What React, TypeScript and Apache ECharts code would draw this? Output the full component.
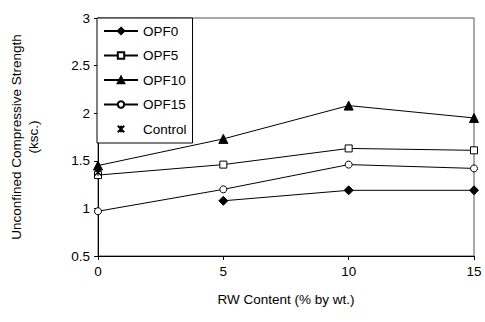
import React, { useEffect, useRef } from "react";
import * as echarts from "echarts";

const xValues = [0, 5, 10, 15];
const opf0: (number | null)[] = [null, 1.08, 1.19, 1.19];
const opf5 = [1.35, 1.46, 1.63, 1.61];
const opf10 = [1.45, 1.73, 2.08, 1.95];
const opf15 = [0.97, 1.2, 1.46, 1.42];
const controlX = [0];
const controlY = [1.38];
const yTicks = { min: 0.5, max: 3, interval: 0.5 };
const xTicks = { min: 0, max: 15, interval: 5 };

const FONT = "'Liberation Sans', Arial, sans-serif";
const FS = 13.5;
const asterisk = "path://M0,0L10,10M10,0L0,10M5,0L5,10";

export default function App() {
  const ref = useRef<HTMLDivElement>(null);
  useEffect(() => {
    if (!ref.current) return;
    const chart = echarts.init(ref.current, null, { renderer: "svg" });
    const pair = (ys: (number | null)[]) => xValues.map((x, i) => [x, ys[i]]);
    const lineSeries = (name: string, ys: (number | null)[], symbol: string, size: number, fill: string) => ({
      name,
      type: "line",
      data: pair(ys),
      symbol,
      symbolSize: size,
      showAllSymbol: true,
      lineStyle: { color: "#000", width: 1 },
      itemStyle: { color: fill, borderColor: "#000", borderWidth: 1 },
      emphasis: { disabled: true },
    });
    chart.setOption({
      animation: false,
      backgroundColor: "#fff",
      textStyle: { fontFamily: FONT },
      grid: { left: 97, top: 18, right: 11, bottom: 66, show: true, borderColor: "#555", borderWidth: 1, backgroundColor: "transparent" },
      legend: {
        orient: "vertical",
        left: 97,
        top: 18,
        padding: [6, 6, 7, 6],
        itemWidth: 34,
        itemHeight: 8,
        itemGap: 10.5,
        backgroundColor: "#fff",
        borderColor: "#000",
        borderWidth: 1,
        textStyle: { fontFamily: FONT, fontSize: FS, color: "#000", lineHeight: 14 },
        data: ["OPF0", "OPF5", "OPF10", "OPF15", "Control"],
      },
      xAxis: {
        type: "value",
        min: xTicks.min,
        max: xTicks.max,
        interval: xTicks.interval,
        name: "RW Content (% by wt.)",
        nameLocation: "middle",
        nameGap: 36,
        nameTextStyle: { fontFamily: FONT, fontSize: FS, color: "#000" },
        axisLine: { lineStyle: { color: "#000", width: 1 } },
        axisTick: { show: true, length: 4, lineStyle: { color: "#000" } },
        axisLabel: { fontFamily: FONT, fontSize: FS, color: "#000", margin: 8 },
        splitLine: { show: false },
      },
      yAxis: {
        type: "value",
        min: yTicks.min,
        max: yTicks.max,
        interval: yTicks.interval,
        name: "Unconfined Compressive Strength\n(ksc.)",
        nameLocation: "middle",
        nameGap: 56,
        nameTextStyle: { fontFamily: FONT, fontSize: FS, color: "#000", lineHeight: 17 },
        axisLine: { show: true, lineStyle: { color: "#000", width: 1 } },
        axisTick: { show: true, length: 4, lineStyle: { color: "#000" } },
        axisLabel: { fontFamily: FONT, fontSize: FS, color: "#000", margin: 8 },
        splitLine: { show: false },
      },
      series: [
        lineSeries("OPF0", opf0, "diamond", 9, "#000"),
        lineSeries("OPF5", opf5, "rect", 7, "#fff"),
        lineSeries("OPF10", opf10, "triangle", 9, "#000"),
        lineSeries("OPF15", opf15, "circle", 7, "#fff"),
        {
          name: "Control",
          type: "line",
          data: controlX.map((x, i) => [x, controlY[i]]),
          symbol: asterisk,
          symbolSize: 7,
          lineStyle: { width: 0, color: "#000" },
          itemStyle: { color: "none", borderColor: "#000", borderWidth: 1.2 },
          emphasis: { disabled: true },
        },
      ],
    });
    return () => chart.dispose();
  }, []);
  return <div ref={ref} style={{ position: "fixed", left: 0, top: 0, width: 485, height: 322 }} />;
}
